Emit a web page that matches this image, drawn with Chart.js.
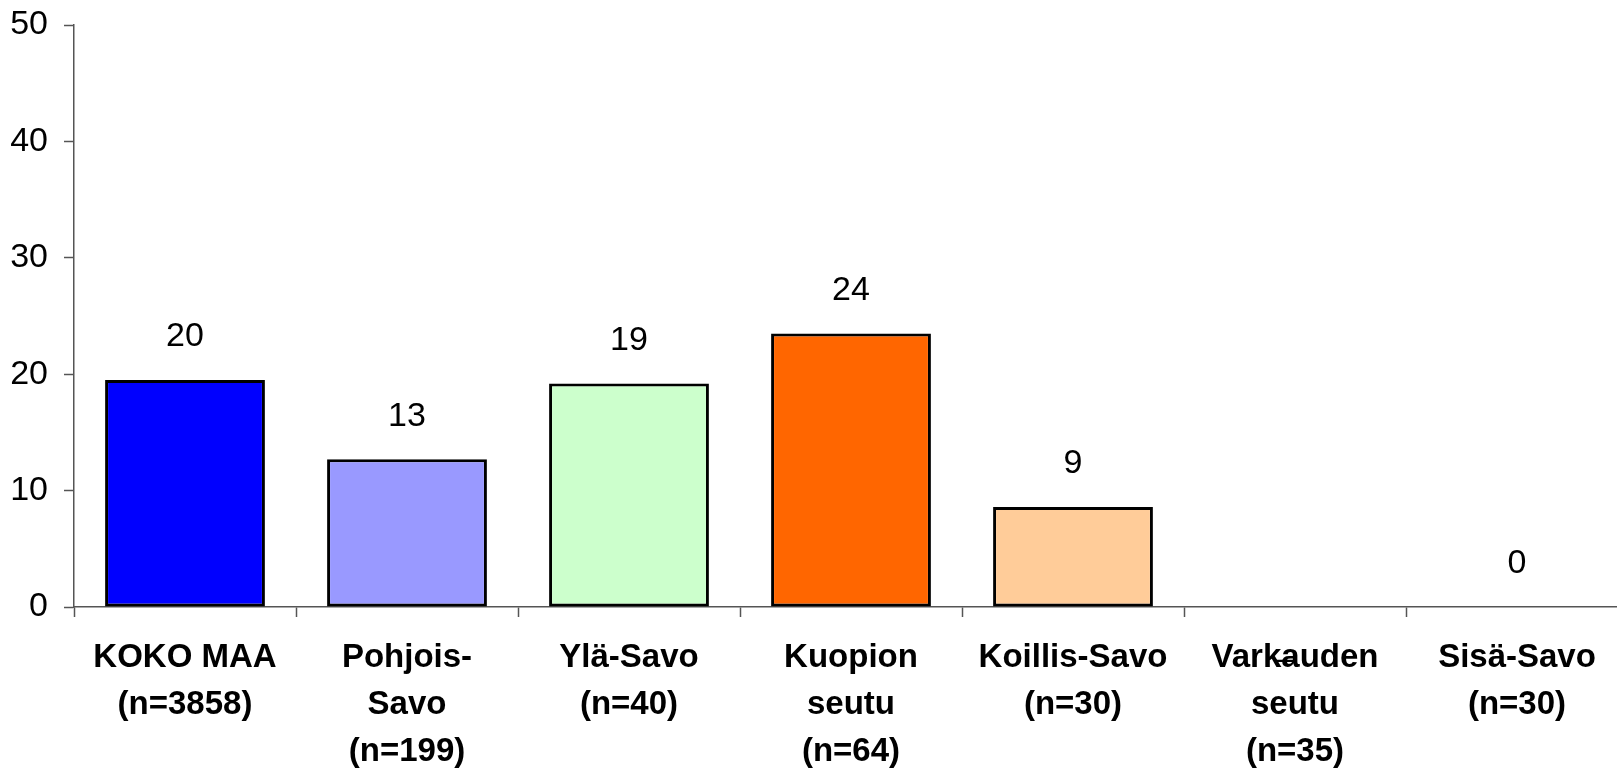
<!DOCTYPE html>
<html>
<head>
<meta charset="utf-8">
<script src="https://cdn.jsdelivr.net/npm/chart.js@4"></script>
<style>
  html, body { margin: 0; padding: 0; background: #fff; overflow: hidden; }
  #wrap { width: 1617px; height: 773px; overflow: hidden; }
</style>
</head>
<body>
<div id="wrap"><canvas id="chart" width="1628" height="773"></canvas></div>
<script>
const categories = [
  ["KOKO MAA", "(n=3858)"],
  ["Pohjois-", "Savo", "(n=199)"],
  ["Ylä-Savo", "(n=40)"],
  ["Kuopion", "seutu", "(n=64)"],
  ["Koillis-Savo", "(n=30)"],
  ["Varkauden", "seutu", "(n=35)"],
  ["Sisä-Savo", "(n=30)"],
];
const values = [19.5, 12.7, 19.2, 23.5, 8.6, null, 0];
const valueLabels = ["20", "13", "19", "24", "9", "–", "0"];
const barColors = ["#0000FF", "#9999FF", "#CCFFCC", "#FF6600", "#FFCC99", "#FFFFFF", "#FFFFFF"];
const yTicks = [0, 10, 20, 30, 40, 50];

const FONT = "'Liberation Sans', Arial, sans-serif";

// draws the number above each bar (and the stray dash for the empty one)
const valueLabelPlugin = {
  id: "valueLabels",
  afterDatasetsDraw(chart) {
    const ctx = chart.ctx;
    const meta = chart.getDatasetMeta(0);
    const yScale = chart.scales.y;
    const xScale = chart.scales.x;
    ctx.save();
    ctx.font = "34px " + FONT;
    ctx.fillStyle = "#000";
    ctx.textAlign = "center";
    ctx.textBaseline = "middle";
    meta.data.forEach((bar, i) => {
      if (values[i] === null) {
        ctx.fillText(valueLabels[i], xScale.getPixelForValue(i) - 11, yScale.bottom + 53);
        return;
      }
      ctx.fillText(valueLabels[i], bar.x, yScale.getPixelForValue(values[i]) - 43);
    });
    ctx.restore();
  },
};

new Chart(document.getElementById("chart"), {
  type: "bar",
  data: {
    labels: categories,
    datasets: [
      {
        data: values,
        backgroundColor: barColors,
        borderColor: "#000",
        borderWidth: 3,
        borderSkipped: false,
        categoryPercentage: 1,
        barPercentage: 0.72,
      },
    ],
  },
  options: {
    responsive: false,
    animation: false,
    layout: { padding: { top: 25, left: 0, right: 0, bottom: 0 } },
    plugins: {
      legend: { display: false },
      tooltip: { enabled: false },
    },
    scales: {
      x: {
        afterFit: (axis) => { axis.height = 166; },
        border: { display: true, color: "#555", width: 1.5 },
        grid: {
          display: true,
          offset: true,
          drawOnChartArea: false,
          tickLength: 10,
          color: "#555",
          tickColor: "#555",
          tickWidth: 1.5,
        },
        ticks: {
          color: "#000",
          padding: 17,
          maxRotation: 0,
          autoSkip: false,
          font: { family: FONT, size: 33, weight: "bold", lineHeight: 1.43 },
        },
      },
      y: {
        min: 0,
        max: 50,
        afterFit: (axis) => { axis.width = 74; },
        afterBuildTicks: (axis) => { axis.ticks = yTicks.map((v) => ({ value: v })); },
        border: { display: true, color: "#555", width: 1.5 },
        grid: {
          display: true,
          drawOnChartArea: false,
          tickLength: 10,
          color: "#555",
          tickColor: "#555",
          tickWidth: 1.5,
        },
        ticks: {
          color: "#000",
          padding: 16,
          font: { family: FONT, size: 34, lineHeight: 0.5 },
        },
      },
    },
  },
  plugins: [valueLabelPlugin],
});
</script>
</body>
</html>
